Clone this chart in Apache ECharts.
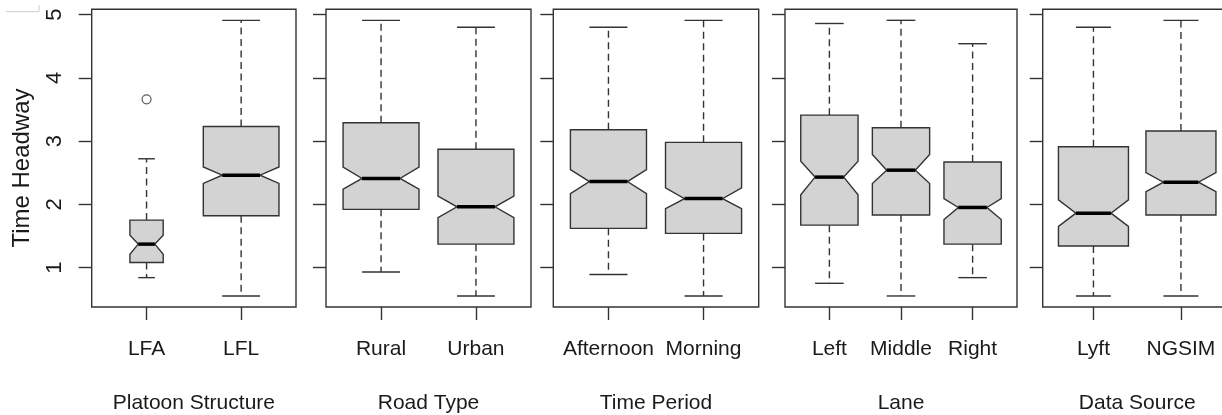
<!DOCTYPE html>
<html>
<head>
<meta charset="utf-8">
<script src="https://cdn.jsdelivr.net/npm/echarts@6/dist/echarts.min.js"></script>
<style>
  html, body { margin: 0; padding: 0; background: #fff; }
  #chart { width: 1222px; height: 415px; }
</style>
</head>
<body>
<div id="chart"></div>
<script>
// ---------- data ----------
const panelTitles = ['Platoon Structure', 'Road Type', 'Time Period', 'Lane', 'Data Source'];
const categories = [['LFA', 'LFL'], ['Rural', 'Urban'], ['Afternoon', 'Morning'], ['Left', 'Middle', 'Right'], ['Lyft', 'NGSIM']];
const whiskerLow    = [[0.84, 0.55], [0.93, 0.55], [0.89, 0.55], [0.75, 0.55, 0.84], [0.55, 0.55]];
const lowerQuartile = [[1.08, 1.82], [1.92, 1.37], [1.62, 1.54], [1.67, 1.83, 1.37], [1.34, 1.83]];
const notchLow      = [[1.21, 2.33], [2.24, 1.79], [2.17, 1.93], [2.15, 2.33, 1.76], [1.65, 2.20]];
const medians       = [[1.37, 2.46], [2.41, 1.96], [2.36, 2.09], [2.43, 2.54, 1.95], [1.86, 2.35]];
const notchHigh     = [[1.51, 2.59], [2.59, 2.13], [2.55, 2.26], [2.68, 2.79, 2.09], [2.07, 2.50]];
const upperQuartile = [[1.75, 3.23], [3.29, 2.87], [3.18, 2.98], [3.41, 3.21, 2.67], [2.91, 3.16]];
const whiskerHigh   = [[2.72, 4.91], [4.91, 4.80], [4.80, 4.91], [4.86, 4.91, 4.54], [4.80, 4.91]];
const outliers      = [[[1, 3.66]], [], [], [], []];   // [group index, value]
const relativeWidth = [[0.44, 1], [1, 1], [1, 1], [1, 1, 1], [1, 1]]; // varwidth
const yTicks = [1, 2, 3, 4, 5];
const yLabel = 'Time Headway';

// ---------- layout / style ----------
const FONT = "'Liberation Sans', Arial, sans-serif";
const LINE = '#333333';
const TEXT = '#1a1a1a';
const grids = [
  { left: 91.7,  top: 9.3, width: 204.3, height: 297.7 },
  { left: 326,   top: 9.3, width: 205,   height: 297.7 },
  { left: 553.3, top: 9.3, width: 205.4, height: 297.7 },
  { left: 785,   top: 9.3, width: 232,   height: 297.7 },
  { left: 1042.7, top: 9.3, width: 189,  height: 297.7 }
];
// R-style axis range: data range extended by 4%
const allVals = [].concat(...whiskerLow.flat(), ...whiskerHigh.flat(), ...outliers.flat().map(o => o[1]));
const yMinData = Math.min(...allVals), yMaxData = Math.max(...allVals);
const yPad = 0.04 * (yMaxData - yMinData);
const yMin = yMinData - yPad, yMax = yMaxData + yPad;

function renderBox(params, api) {
  const x = api.value(0);
  const w = api.value(8);
  const half = api.size([w, 0])[0] / 2;
  const cx = api.coord([x, 0])[0];
  const Y = (i) => api.coord([x, api.value(i)])[1];
  const yWLo = Y(1), yQ1 = Y(2), yNLo = Y(3), yMed = Y(4), yNHi = Y(5), yQ3 = Y(6), yWHi = Y(7);
  const lw = 1.4;
  const dash = [7, 4.5];
  return {
    type: 'group',
    children: [
      { type: 'line', shape: { x1: cx, y1: yQ3, x2: cx, y2: yWHi }, style: { stroke: LINE, lineWidth: lw, lineDash: dash } },
      { type: 'line', shape: { x1: cx, y1: yQ1, x2: cx, y2: yWLo }, style: { stroke: LINE, lineWidth: lw, lineDash: dash } },
      { type: 'line', shape: { x1: cx - half / 2, y1: yWHi, x2: cx + half / 2, y2: yWHi }, style: { stroke: LINE, lineWidth: lw } },
      { type: 'line', shape: { x1: cx - half / 2, y1: yWLo, x2: cx + half / 2, y2: yWLo }, style: { stroke: LINE, lineWidth: lw } },
      {
        type: 'polygon',
        shape: { points: [
          [cx - half, yQ3], [cx + half, yQ3], [cx + half, yNHi], [cx + half / 2, yMed],
          [cx + half, yNLo], [cx + half, yQ1], [cx - half, yQ1], [cx - half, yNLo],
          [cx - half / 2, yMed], [cx - half, yNHi]
        ] },
        style: { fill: '#d3d3d3', stroke: LINE, lineWidth: lw }
      },
      { type: 'line', shape: { x1: cx - half / 2, y1: yMed, x2: cx + half / 2, y2: yMed }, style: { stroke: '#000', lineWidth: 3.5 } }
    ]
  };
}

const xAxes = [], yAxes = [], series = [];
panelTitles.forEach((title, p) => {
  const n = categories[p].length;
  const ext = 0.04 * n;
  const ticks = categories[p].map((c, i) => i + 1);
  xAxes.push({
    type: 'value', gridIndex: p, min: 0.5 - ext, max: n + 0.5 + ext,
    axisLine: { show: false }, splitLine: { show: false },
    axisTick: { show: true, customValues: ticks, length: 13, lineStyle: { color: LINE, width: 1.4 } },
    axisLabel: { show: true, customValues: ticks, margin: 32, fontSize: 21, fontFamily: FONT, color: TEXT,
      formatter: (v) => categories[p][Math.round(v) - 1] },
    name: title, nameLocation: 'middle', nameGap: 86,
    nameTextStyle: { fontSize: 21, fontFamily: FONT, color: TEXT }
  });
  yAxes.push({
    type: 'value', gridIndex: p, min: yMin, max: yMax,
    axisLine: { show: false }, splitLine: { show: false },
    axisTick: { show: true, customValues: yTicks, length: 13, lineStyle: { color: LINE, width: 1.4 } },
    axisLabel: { show: p === 0, customValues: yTicks, rotate: 90, margin: 26, fontSize: 22, fontFamily: FONT, color: TEXT }
  });
  series.push({
    type: 'custom', xAxisIndex: p, yAxisIndex: p, clip: false,
    encode: { x: 0, y: [1, 2, 3, 4, 5, 6, 7] },
    renderItem: renderBox,
    data: categories[p].map((c, i) => [i + 1, whiskerLow[p][i], lowerQuartile[p][i], notchLow[p][i], medians[p][i],
      notchHigh[p][i], upperQuartile[p][i], whiskerHigh[p][i], 0.8 * relativeWidth[p][i]])
  });
  if (outliers[p].length) {
    series.push({
      type: 'scatter', xAxisIndex: p, yAxisIndex: p, symbol: 'circle', symbolSize: 9,
      itemStyle: { color: 'transparent', borderColor: LINE, borderWidth: 1.2 },
      data: outliers[p]
    });
  }
});

const chart = echarts.init(document.getElementById('chart'), null, { renderer: 'canvas' });
chart.setOption({
  animation: false,
  backgroundColor: '#ffffff',
  grid: grids.map(g => Object.assign({ show: true, borderColor: LINE, borderWidth: 1.4, backgroundColor: 'transparent',
    containLabel: false, outerBoundsMode: 'none' }, g)),
  xAxis: xAxes,
  yAxis: yAxes,
  series: series,
  graphic: [
    { type: 'text', x: 22, y: 168, rotation: Math.PI / 2,
      style: { text: yLabel, fontSize: 24, fontFamily: FONT, fill: TEXT, align: 'center', verticalAlign: 'middle' } },
    { type: 'polyline', shape: { points: [[6, 11.7], [39, 11.7], [39, 5]] }, style: { stroke: '#cccccc', lineWidth: 1, fill: null } }
  ]
});
</script>
</body>
</html>
